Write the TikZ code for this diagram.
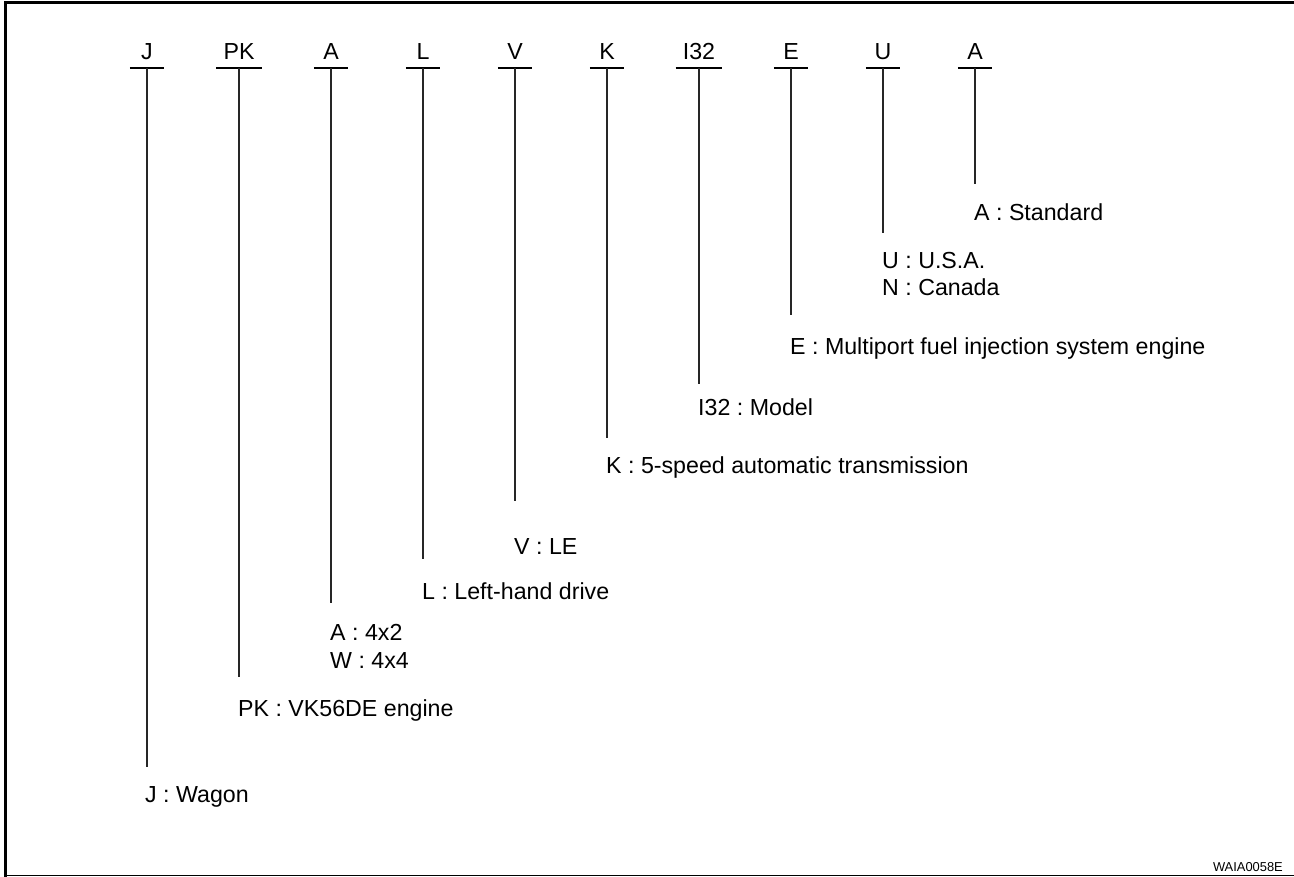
\documentclass[tikz,border=0pt]{standalone}
\usepackage{fontspec}
\setmainfont{Liberation Sans}
\usetikzlibrary{positioning,calc}
\frenchspacing
\tikzset{
  code/.style={anchor=base, font=\fontsize{23.2}{27}\selectfont, text depth=0pt, inner xsep=7pt, inner ysep=8pt, minimum width=34pt},
  bar/.style={line width=2.4pt},
  lead/.style={line width=1.2pt, color=black!85},
  desc/.style={anchor=base west, inner sep=0pt, font=\fontsize{23.2}{27}\selectfont},
  tag/.style={anchor=base east, inner sep=0pt, font=\fontsize{12.9}{15}\selectfont},
  frame/.style={line width=3pt},
  rule/.style={line width=1.2pt}
}

\begin{document}
\begin{tikzpicture}[x=1pt, y=-1pt]
  \useasboundingbox (0,0) rectangle (1294,877);
  \draw[frame] (5,877) -- (5,3) -- (1294,3);
  \draw[rule] (4,875.5) -- (1294,875.5);

  \node[code] (cJ) at (147,60) {J};
  \node[code] (cPK) at (239,60) {PK};
  \node[code] (cA) at (331,60) {A};
  \node[code] (cL) at (423,60) {L};
  \node[code] (cV) at (515,60) {V};
  \node[code] (cK) at (607,60) {K};
  \node[code] (cI) at (699,60) {I32};
  \node[code] (cE) at (791,60) {E};
  \node[code] (cU) at (883,60) {U};
  \node[code] (cS) at (975,60) {A};

  \coordinate (eJ) at (147,767);
  \coordinate (ePK) at (239,677);
  \coordinate (eA) at (331,603);
  \coordinate (eL) at (423,559);
  \coordinate (eV) at (515,501);
  \coordinate (eK) at (607,438);
  \coordinate (eI) at (699,384);
  \coordinate (eE) at (791,315);
  \coordinate (eU) at (883,233);
  \coordinate (eS) at (975,184);

  \node[desc] (dJ) at (145,802) {J : Wagon};
  \node[desc] (dPK) at (238,716) {PK : VK56DE engine};
  \node[desc] (dA) at (330,640) {A : 4x2};
  \node[desc] (dW) at (330,668) {W : 4x4};
  \node[desc] (dL) at (422,599) {L : Left-hand drive};
  \node[desc] (dV) at (514,554) {V : LE};
  \node[desc] (dK) at (606,473) {K : 5-speed automatic transmission};
  \node[desc] (dI) at (698,416) {I32 : Model};
  \node[desc] (dE) at (790,355) {E : Multiport fuel injection system engine};
  \node[desc] (dU) at (882,269) {U : U.S.A.};
  \node[desc] (dN) at (882,296) {N : Canada};
  \node[desc] (dS) at (974,221) {A : Standard};

  \node[tag] (fig) at (1283,871) {WAIA0058E};

  \foreach \c in {cJ,cPK,cA,cL,cV,cK,cI,cE,cU,cS}
    \draw[bar] (\c.south west) -- (\c.south east);

  \draw[lead] (cJ.south) -- (eJ);
  \draw[lead] (cPK.south) -- (ePK);
  \draw[lead] (cA.south) -- (eA);
  \draw[lead] (cL.south) -- (eL);
  \draw[lead] (cV.south) -- (eV);
  \draw[lead] (cK.south) -- (eK);
  \draw[lead] (cI.south) -- (eI);
  \draw[lead] (cE.south) -- (eE);
  \draw[lead] (cU.south) -- (eU);
  \draw[lead] (cS.south) -- (eS);
\end{tikzpicture}
\end{document}
